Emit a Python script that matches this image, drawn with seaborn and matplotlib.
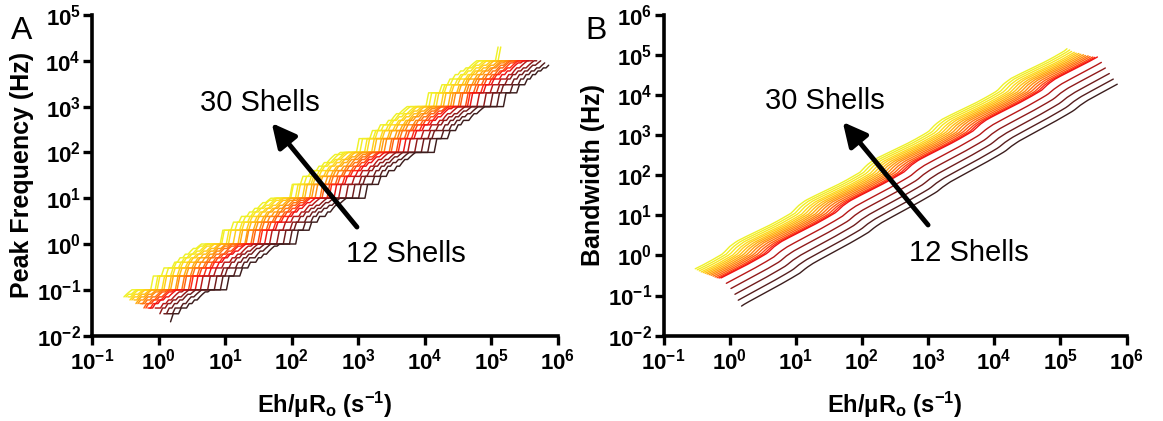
import numpy as np
import pandas as pd
import matplotlib
matplotlib.use("Agg")
import matplotlib.pyplot as plt
import seaborn as sns
from matplotlib.ticker import FixedLocator, FuncFormatter, NullLocator

# ---------------- data ----------------
shells = [30, 29, 28, 27, 26, 25, 24, 23, 22, 21, 20, 19, 18, 17, 16, 15, 14, 13, 12]
line_colors = ["#eef22a", "#f2ee25", "#f8e622", "#fddb1f", "#ffcd1a", "#ffbe15",
               "#ffad10", "#ff9c10", "#ff8a10", "#ff7610", "#ff6210", "#ff4a12",
               "#ff2a16", "#ee1414", "#b81818", "#901a1a", "#701c1c", "#561e1e", "#3c1e1e"]
# sweep range of Eh/uRo for every shell count (log10 s^-1)
x_start_log = [-0.52, -0.49, -0.46, -0.43, -0.40, -0.37, -0.34, -0.31, -0.28, -0.25,
               -0.22, -0.19, -0.16, -0.13, -0.05, 0.02, 0.08, 0.13, 0.18]
x_end_log = [5.10, 5.14, 5.17, 5.21, 5.24, 5.28, 5.31, 5.35, 5.38, 5.42,
             5.45, 5.49, 5.52, 5.56, 5.62, 5.68, 5.74, 5.80, 5.86]
samples_per_decade = 25

# panel A: peak-frequency trend (log10 Hz at x = 1) and the frequency bins it falls in
peak_at_1_log = [-0.60, -0.65, -0.70, -0.75, -0.80, -0.85, -0.90, -0.95, -1.00, -1.05,
                 -1.10, -1.15, -1.20, -1.25, -1.34, -1.43, -1.52, -1.62, -1.72]
peak_slope = 0.965
peak_levels = [1, 2, 3, 4, 5, 6, 7, 8, 9]

# panel B: bandwidth (log10 Hz at x = 1e3), slope and the bump seen at every bin jump
bw_at_1e3_log = [3.11, 3.05, 2.99, 2.93, 2.88, 2.83, 2.78, 2.73, 2.68, 2.63,
                 2.58, 2.53, 2.49, 2.46, 2.26, 2.06, 1.86, 1.66, 1.47]
bw_slope = 0.98
bump_phase = [0.0, 0.1, 0.2, 0.3, 0.4, 0.5, 0.6, 0.7, 0.8, 0.9, 1.0]
bump_shape = [-0.02, 0.04, 0.06, 0.05, 0.035, 0.02, 0.005, -0.008, -0.016, -0.02, -0.02]
bump_amp = [1.3, 1.3, 1.3, 1.3, 1.3, 1.2, 1.2, 1.2, 1.2, 1.1,
            1.0, 1.0, 1.0, 1.0, 0.7, 0.7, 0.6, 0.6, 0.6]

x_tick_exp = [-1, 0, 1, 2, 3, 4, 5, 6]
yA_tick_exp = [-2, -1, 0, 1, 2, 3, 4, 5]
yB_tick_exp = [-2, -1, 0, 1, 2, 3, 4, 5, 6]

# ---------------- build long-form tables ----------------
rows_a, rows_b = [], []
lev = np.array(peak_levels, dtype=float)
for i, n in enumerate(shells):
    npts = int(round((x_end_log[i] - x_start_log[i]) * samples_per_decade)) + 1
    lx = np.linspace(x_start_log[i], x_end_log[i], npts)
    ly = peak_at_1_log[i] + peak_slope * lx
    k = np.floor(ly)
    mant = 10 ** (ly - k)
    idx = np.searchsorted(lev, mant + 1e-9, side="right") - 1
    ya = lev[idx] * 10 ** k
    ph = np.mod(ly - np.log10(2), 1.0)
    rip = np.interp(ph, bump_phase, bump_shape) * bump_amp[i]
    yb = 10 ** (bw_at_1e3_log[i] + bw_slope * (lx - 3) + rip)
    xs = 10 ** lx
    rows_a.append(pd.DataFrame({"x": xs, "y": ya, "shells": n}))
    rows_b.append(pd.DataFrame({"x": xs, "y": yb, "shells": n}))
dfA = pd.concat(rows_a, ignore_index=True)
dfB = pd.concat(rows_b, ignore_index=True)

# ---------------- style ----------------
sns.set_style("ticks", {"axes.edgecolor": "black", "text.color": "black",
                        "axes.labelcolor": "black", "xtick.color": "black",
                        "ytick.color": "black"})
plt.rcParams["font.family"] = ["Liberation Sans", "DejaVu Sans"]
plt.rcParams["font.weight"] = "bold"
plt.rcParams["mathtext.fontset"] = "custom"
plt.rcParams["mathtext.rm"] = "Liberation Sans"
plt.rcParams["mathtext.bf"] = "Liberation Sans:bold"
plt.rcParams["mathtext.it"] = "Liberation Sans:italic"

pal = dict(zip(shells, line_colors))

fig = plt.figure(figsize=(11.63, 4.21), dpi=100)
axA = fig.add_axes([92 / 1163, 1 - 335.6 / 421, 466 / 1163, 320.6 / 421])
axB = fig.add_axes([663.5 / 1163, 1 - 335.6 / 421, 463 / 1163, 320.6 / 421])

sns.lineplot(data=dfA, x="x", y="y", hue="shells", hue_order=shells, palette=pal,
             estimator=None, sort=False, legend=False, ax=axA, lw=1.05)
sns.lineplot(data=dfB, x="x", y="y", hue="shells", hue_order=shells, palette=pal,
             estimator=None, sort=False, legend=False, ax=axB, lw=1.0)

fmt = FuncFormatter(lambda v, p: r"10$^{\mathbf{%d}}$" % int(round(np.log10(v))))
for ax, yexp in ((axA, yA_tick_exp), (axB, yB_tick_exp)):
    ax.set_xscale("log")
    ax.set_yscale("log")
    ax.set_xlim(10.0 ** x_tick_exp[0], 10.0 ** x_tick_exp[-1])
    ax.set_ylim(10.0 ** yexp[0], 10.0 ** yexp[-1])
    ax.xaxis.set_major_locator(FixedLocator([10.0 ** e for e in x_tick_exp]))
    ax.yaxis.set_major_locator(FixedLocator([10.0 ** e for e in yexp]))
    ax.xaxis.set_minor_locator(NullLocator())
    ax.yaxis.set_minor_locator(NullLocator())
    ax.xaxis.set_major_formatter(fmt)
    ax.yaxis.set_major_formatter(fmt)
    sns.despine(ax=ax)
    for s in ("left", "bottom"):
        ax.spines[s].set_linewidth(2.6)
        ax.spines[s].set_color("black")
    ax.tick_params(axis="both", which="major", length=6.5, width=2.4, labelsize=16,
                   color="black", labelcolor="black")
    ax.tick_params(axis="y", pad=1.5)
    ax.tick_params(axis="x", pad=3.0)
    ax.set_xlabel(r"Eh/μR$_{\mathbf{o}}$ (s$^{\mathbf{-1}}$)", fontsize=17,
                  fontweight="bold", labelpad=11, color="black")

axA.set_ylabel("Peak Frequency (Hz)", fontsize=18, fontweight="bold", labelpad=2,
               color="black")
axB.set_ylabel("Bandwidth (Hz)", fontsize=18, fontweight="bold", labelpad=2,
               color="black")

arrow = dict(arrowstyle="-|>", mutation_scale=36, lw=3.5, color="black",
             shrinkA=0, shrinkB=0)
axA.annotate("", xy=(10 ** 1.70, 10 ** 2.64), xytext=(10 ** 2.98, 10 ** 0.37),
             arrowprops=arrow)
axA.text(10 ** 1.52, 10 ** 3.08, "30 Shells", ha="center", va="center",
         fontsize=21, fontweight="normal", color="black")
axA.text(10 ** 3.72, 10 ** -0.22, "12 Shells", ha="center", va="center",
         fontsize=21, fontweight="normal", color="black")

axB.annotate("", xy=(10 ** 1.71, 10 ** 3.33), xytext=(10 ** 3.00, 10 ** 0.76),
             arrowprops=arrow)
axB.text(10 ** 1.44, 10 ** 3.86, "30 Shells", ha="center", va="center",
         fontsize=21, fontweight="normal", color="black")
axB.text(10 ** 3.62, 10 ** 0.06, "12 Shells", ha="center", va="center",
         fontsize=21, fontweight="normal", color="black")

fig.text(11 / 1163, 1 - 39 / 421, "A", fontsize=23, fontweight="normal",
         ha="left", va="baseline", color="black")
fig.text(585 / 1163, 1 - 39 / 421, "B", fontsize=23, fontweight="normal",
         ha="left", va="baseline", color="black")

fig.savefig("out.png", dpi=100)
